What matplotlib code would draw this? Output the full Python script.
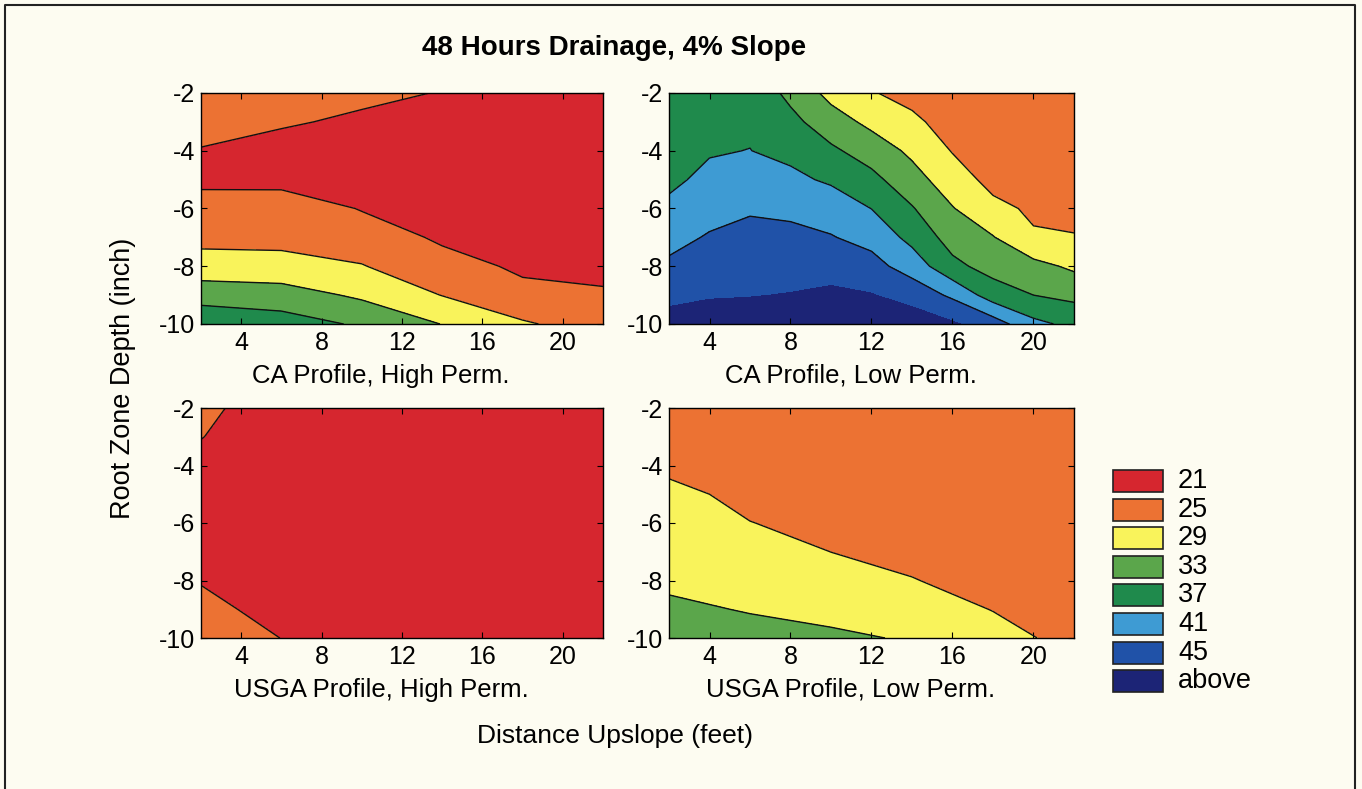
import numpy as np
import matplotlib.pyplot as plt
from matplotlib.patches import Rectangle

plt.rcParams['font.family'] = ['Liberation Sans', 'DejaVu Sans']
plt.rcParams['axes.unicode_minus'] = False

# depth rows (inch) and distance columns (feet)
depth = [-2, -3, -4, -5, -6, -7, -8, -9, -10]
dist_coarse = [2, 6, 10, 14, 18, 22]
dist_fine = [2, 4, 6, 8, 10, 12, 14, 16, 18, 20, 22]

# values, one list per distance column (top to bottom)
ca_high = [
    [23.5, 22.4, 20.8, 20.0, 22.9, 24.2, 26.2, 31.8, 35.2],
    [22.8, 21.4, 19.7, 19.8, 23.2, 24.0, 26.2, 30.9, 34.7],
    [21.8, 20.4, 19.5, 19.3, 20.8, 22.8, 25.2, 28.3, 32.5],
    [20.85, 19.8, 19.3, 19.2, 19.6, 20.5, 22.2, 24.9, 28.9],
    [20.3, 19.8, 19.4, 19.2, 19.3, 19.8, 20.5, 21.8, 25.5],
    [20.2, 19.8, 19.4, 19.2, 19.3, 19.6, 20.3, 21.3, 23.0],
]
ca_low = [
    [35.0, 35.5, 36.0, 36.5, 37.5, 39.6, 41.8, 44.2, 46.2],
    [35.5, 36.2, 36.8, 37.6, 39.4, 41.4, 43.0, 44.8, 46.2],
    [35.8, 36.5, 37.05, 38.6, 40.6, 42.1, 43.5, 44.9, 46.3],
    [32.0, 34.1, 36.0, 37.9, 40.0, 42.2, 44.0, 45.1, 46.5],
    [27.8, 30.8, 33.7, 36.4, 39.4, 41.2, 43.6, 45.7, 46.8],
    [25.3, 28.0, 31.2, 34.1, 36.95, 39.8, 42.3, 45.2, 46.2],
    [23.5, 26.0, 28.2, 30.5, 33.3, 35.8, 39.3, 43.4, 47.4],
    [22.0, 23.0, 24.8, 26.9, 29.2, 31.4, 34.0, 40.3, 45.5],
    [21.5, 21.8, 22.7, 23.8, 26.0, 29.2, 31.5, 35.0, 43.0],
    [22.0, 22.5, 23.0, 23.5, 24.4, 25.4, 30.2, 33.0, 38.0],
    [22.0, 22.4, 22.8, 23.3, 23.9, 25.2, 28.3, 32.0, 36.0],
]
usga_high = [
    [22.0, 21.1, 20.0, 19.6, 19.5, 19.7, 20.8, 22.0, 23.5],
    [18.7, 18.8, 19.0, 19.0, 19.0, 19.2, 19.5, 19.8, 20.95],
    [18.6, 18.7, 18.8, 18.8, 18.9, 19.0, 19.2, 19.4, 19.8],
    [18.6, 18.6, 18.7, 18.8, 18.8, 18.9, 19.0, 19.2, 19.5],
    [18.6, 18.6, 18.7, 18.7, 18.8, 18.8, 18.9, 19.0, 19.3],
    [18.6, 18.6, 18.6, 18.7, 18.7, 18.8, 18.8, 18.9, 19.1],
]
usga_low = [
    [23.0, 23.6, 24.4, 25.7, 26.7, 27.6, 28.4, 29.6, 30.8],
    [22.8, 23.2, 23.7, 24.3, 25.05, 26.5, 27.6, 28.8, 30.1],
    [22.6, 22.9, 23.3, 23.8, 24.3, 24.98, 26.3, 28.0, 29.6],
    [22.4, 22.6, 22.9, 23.3, 23.8, 24.3, 25.1, 26.6, 28.7],
    [22.3, 22.4, 22.6, 22.9, 23.2, 23.6, 24.1, 24.9, 26.2],
    [22.2, 22.3, 22.4, 22.6, 22.8, 23.0, 23.3, 23.6, 24.0],
]

levels = [0, 21, 25, 29, 33, 37, 41, 45, 100]
legend_labels = ['21', '25', '29', '33', '37', '41', '45', 'above']
colors = ['#d6262f', '#ec7233', '#f9f35b', '#5ba64b', '#1f8a4c',
          '#3e9bd3', '#2052a8', '#1c2476']

panels = [
    (ca_high, dist_coarse, 'CA Profile, High Perm.'),
    (ca_low, dist_fine, 'CA Profile, Low Perm.'),
    (usga_high, dist_coarse, 'USGA Profile, High Perm.'),
    (usga_low, dist_coarse, 'USGA Profile, Low Perm.'),
]
# axes boxes in pixels: left, top, right, bottom
boxes = [(201, 93, 603, 324), (669, 93, 1074, 324),
         (201, 408, 603, 638), (669, 408, 1074, 638)]

W, H = 1362, 789
bg = '#fdfcf1'
fig = plt.figure(figsize=(W / 100, H / 100), dpi=100, facecolor=bg)

for (vals, xs, name), (l, t, r, b) in zip(panels, boxes):
    ax = fig.add_axes([l / W, 1 - b / H, (r - l) / W, (b - t) / H])
    z = np.array(vals).T
    X, Y = np.meshgrid(xs, depth)
    ax.contourf(X, Y, z, levels=levels, colors=colors)
    ax.contour(X, Y, z, levels=levels[1:7], colors='#111111', linewidths=1.0)
    ax.set_xlim(2, 22)
    ax.set_ylim(-10, -2)
    ax.set_xticks([4, 8, 12, 16, 20])
    ax.set_yticks([-2, -4, -6, -8, -10])
    ax.tick_params(labelsize=18, direction='in', top=True, right=True,
                   length=4, width=0.8)
    ax.tick_params(axis='y', pad=4)
    ax.tick_params(axis='x', pad=5)
    for s in ax.spines.values():
        s.set_linewidth(1.0)
    fig.text(((l + r) / 2 - 21) / W, 1 - (b + 52) / H, name,
             ha='center', va='center', fontsize=18.5)

fig.text(614 / W, 1 - 48 / H, '48 Hours Drainage, 4% Slope',
         ha='center', va='center', fontsize=20, fontweight='bold')
fig.text(123 / W, 1 - 378 / H, 'Root Zone Depth (inch)',
         ha='center', va='center', rotation=90, fontsize=19.5)
fig.text(615 / W, 1 - 736 / H, 'Distance Upslope (feet)',
         ha='center', va='center', fontsize=19)

# legend boxes
lax = fig.add_axes([0, 0, 1, 1], facecolor='none')
lax.set_xlim(0, W)
lax.set_ylim(H, 0)
lax.axis('off')
for i, (c, lab) in enumerate(zip(colors, legend_labels)):
    y0 = 470 + i * 28.6
    lax.add_patch(Rectangle((1113, y0), 50, 22, facecolor=c,
                            edgecolor='#222222', linewidth=1.2))
    lax.text(1178, y0 + 11, lab, ha='left', va='center', fontsize=19.5)

# outer frame
lax.plot([5, 5, 1355, 1355], [H + 5, 5, 5, H + 5], color='#222222', lw=1.5)

fig.savefig('out.png', dpi=100, facecolor=bg)
